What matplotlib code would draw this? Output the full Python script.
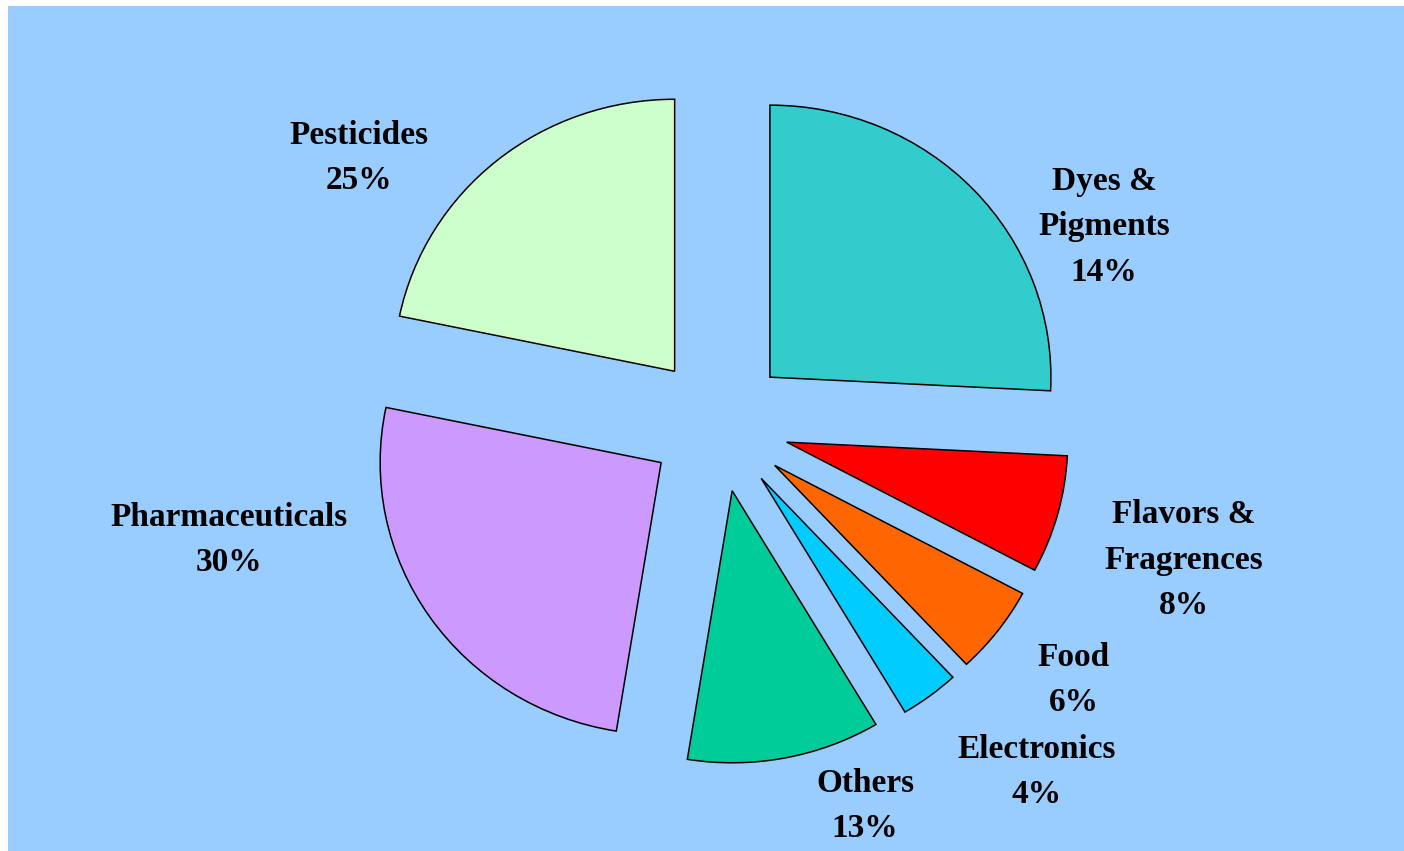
import matplotlib
matplotlib.use("Agg")
import matplotlib.pyplot as plt
from matplotlib.patches import Rectangle

# slice order: clockwise from 12 o'clock
names = ["Dyes &\nPigments", "Flavors &\nFragrences", "Food", "Electronics",
         "Others", "Pharmaceuticals", "Pesticides"]
shown_pct = [14, 8, 6, 4, 13, 30, 25]          # the percentages printed on the chart
wedge_share = [25.8, 7.0, 5.25, 3.4, 11.1, 25.7, 21.75]  # wedge sizes as drawn
colors = ["#33CCCC", "#FF0000", "#FF6600", "#00CCFF", "#00CC99", "#CC99FF", "#CCFFCC"]

W, H = 1404, 851
cx, cy = 719, 424      # pie centre, pixels from top-left
rx, ry = 281, 272      # radius in pixels (chart is slightly squashed)

# label block centres, pixels from top-left
label_xy = [(1104, 227), (1184, 560), (1074, 680), (1037, 772),
            (865, 806), (229, 540), (359, 158)]

fig = plt.figure(figsize=(W / 100, H / 100), dpi=100)
fig.patch.set_facecolor("white")
fig.add_artist(Rectangle((8 / W, 0), (W - 8) / W, (H - 6) / H,
                         transform=fig.transFigure, facecolor="#99CCFF",
                         edgecolor="none", zorder=0))

ax = fig.add_axes([0, 0, 1, 1])
ax.pie(wedge_share, colors=colors, startangle=90, counterclock=False,
       explode=[0.25] * len(wedge_share),
       wedgeprops=dict(edgecolor="black", linewidth=1.1))
ax.set_aspect("auto")
ax.set_xlim(-cx / rx, (W - cx) / rx)
ax.set_ylim((cy - H) / ry, cy / ry)
ax.axis("off")

for name, pct, (lx, ly) in zip(names, shown_pct, label_xy):
    fig.text(lx / W, 1 - ly / H, f"{name}\n{pct}%", ha="center", va="center",
             multialignment="center", fontsize=24, fontweight="bold",
             family="Liberation Serif", linespacing=1.62)

fig.savefig("out.png", dpi=100)
